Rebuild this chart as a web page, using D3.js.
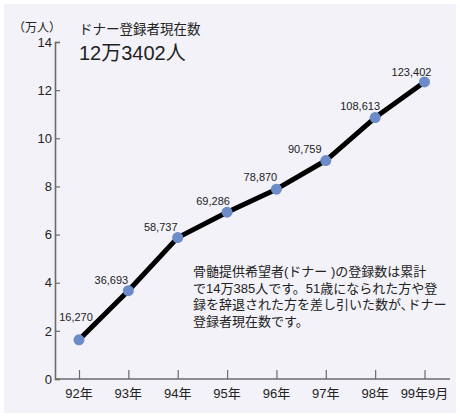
<!DOCTYPE html>
<html>
<head>
<meta charset="utf-8">
<script src="https://cdn.jsdelivr.net/npm/d3@7"></script>
<style>
  html, body { margin: 0; padding: 0; background: #ffffff; }
  svg { display: block; }
  text { font-family: "Liberation Sans", "Noto Sans CJK JP", sans-serif; fill: #222; }
</style>
</head>
<body>
<svg id="chart" width="460" height="417"></svg>
<script>
// Registered donors (in units of 10,000 people)
const years = ["92年", "93年", "94年", "95年", "96年", "97年", "98年", "99年9月"];
const donors = [16270, 36693, 58737, 69286, 78870, 90759, 108613, 123402];
const yTicks = [0, 2, 4, 6, 8, 10, 12, 14];
// Label nudges relative to each point (dx, dy)
const labelDx = [-3, -17, -17, -14, -16, -21, -15, -13];
const labelDy = [-23, -11, -11, -11, -12, -12, -12, -10];
const noteLines = [
  "骨髄提供希望者(ドナー )の登録数は累計",
  "で14万385人です。51歳になられた方や登",
  "録を辞退された方を差し引いた数が､ドナー",
  "登録者現在数です。"
];

const svg = d3.select("#chart");

// panel background
svg.append("rect")
  .attr("x", 4).attr("y", 4).attr("width", 452).attr("height", 409)
  .attr("fill", "#f3f2f8");

const x = d3.scalePoint().domain(years).range([79, 424.5]);
const y = d3.scaleLinear().domain([0, 14]).range([379, 42]);

const axisColor = "#6b6b6b";

// y axis
const yAxis = svg.append("g").attr("transform", "translate(55,0)")
  .call(d3.axisRight(y).tickValues(yTicks).tickSize(5).tickFormat(d3.format("d")));
yAxis.select(".domain").attr("stroke", axisColor).attr("stroke-width", 1.6);
yAxis.selectAll(".tick line").attr("stroke", axisColor).attr("stroke-width", 1.2);
yAxis.selectAll(".tick text")
  .attr("x", -3).attr("text-anchor", "end")
  .style("font-size", "13px").attr("fill", "#222");

// x axis
const xAxis = svg.append("g").attr("transform", "translate(0,379)")
  .call(d3.axisTop(x).tickSize(9).tickFormat(""));
xAxis.select(".domain").attr("d", "M55,0H450").attr("stroke", axisColor).attr("stroke-width", 1.6);
xAxis.selectAll(".tick line").attr("stroke", axisColor).attr("stroke-width", 1.2);
svg.append("g").selectAll("text").data(years).join("text")
  .attr("x", d => x(d)).attr("y", 398)
  .attr("text-anchor", "middle")
  .style("font-size", "13px")
  .text(d => d);

// line
const line = d3.line()
  .x((d, i) => x(years[i]))
  .y(d => y(d / 10000));
svg.append("path").datum(donors)
  .attr("d", line)
  .attr("fill", "none")
  .attr("stroke", "#000")
  .attr("stroke-width", 5)
  .attr("stroke-linejoin", "round");

// points
svg.append("g").selectAll("circle").data(donors).join("circle")
  .attr("cx", (d, i) => x(years[i]))
  .attr("cy", d => y(d / 10000))
  .attr("r", 5.5)
  .attr("fill", "#6b8bc9");

// value labels
svg.append("g").selectAll("text").data(donors).join("text")
  .attr("x", (d, i) => x(years[i]) + labelDx[i])
  .attr("y", (d, i) => y(d / 10000) + labelDy[i] + 4)
  .attr("text-anchor", "middle")
  .style("font-size", "11px")
  .attr("fill", "#333")
  .text(d => d3.format(",")(d));

// titles
svg.append("text").attr("x", 13).attr("y", 32)
  .style("font-size", "12px").text("（万人）");
svg.append("text").attr("x", 79).attr("y", 34)
  .style("font-size", "13.5px").text("ドナー登録者現在数");
svg.append("text").attr("x", 79).attr("y", 60)
  .style("font-size", "20px").text("12万3402人");

// note
svg.append("g").selectAll("text").data(noteLines).join("text")
  .attr("x", 193)
  .attr("y", (d, i) => 276 + i * 16.7)
  .style("font-size", "13px")
  .text(d => d);
</script>
</body>
</html>
